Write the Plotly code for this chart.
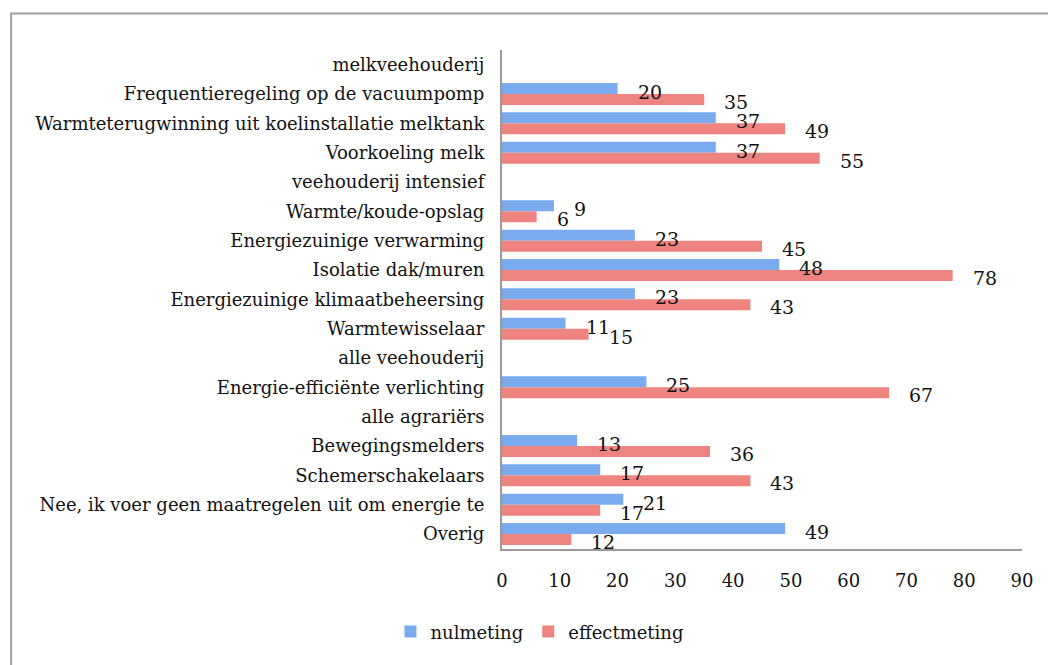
import plotly.graph_objects as go

# categories top to bottom (group headers have no bars)
categories = [
    "melkveehouderij",
    "Frequentieregeling op de vacuumpomp",
    "Warmteterugwinning uit koelinstallatie melktank",
    "Voorkoeling melk",
    "veehouderij intensief",
    "Warmte/koude-opslag",
    "Energiezuinige verwarming",
    "Isolatie dak/muren",
    "Energiezuinige klimaatbeheersing",
    "Warmtewisselaar",
    "alle veehouderij",
    "Energie-efficiënte verlichting",
    "alle agrariërs",
    "Bewegingsmelders",
    "Schemerschakelaars",
    "Nee, ik voer geen maatregelen uit om energie te",
    "Overig",
]
nulmeting = [None, 20, 37, 37, None, 9, 23, 48, 23, 11, None, 25, None, 13, 17, 21, 49]
effectmeting = [None, 35, 49, 55, None, 6, 45, 78, 43, 15, None, 67, None, 36, 43, 17, 12]
x_ticks = [0, 10, 20, 30, 40, 50, 60, 70, 80, 90]

FONT = "DejaVu Serif"
BLUE = "#7aabee"
RED = "#ee8480"

fig = go.Figure()
fig.add_trace(go.Bar(y=categories, x=nulmeting, orientation="h", name="nulmeting",
                     marker=dict(color=BLUE, line=dict(width=0))))
fig.add_trace(go.Bar(y=categories, x=effectmeting, orientation="h", name="effectmeting",
                     marker=dict(color=RED, line=dict(width=0))))

# value labels, Excel style: just right of each bar end
for cat, v in zip(categories, nulmeting):
    if v is not None:
        fig.add_annotation(x=v, y=cat, text=str(v), showarrow=False, xanchor="left",
                           xshift=18, yshift=2, font=dict(family=FONT, size=19, color="#111"))
for cat, v in zip(categories, effectmeting):
    if v is not None:
        fig.add_annotation(x=v, y=cat, text=str(v), showarrow=False, xanchor="left",
                           xshift=18, yshift=-8, font=dict(family=FONT, size=19, color="#111"))

# outer chart border (runs off the right/bottom of the picture)
fig.add_shape(type="rect", xref="paper", yref="paper", x0=-0.944, x1=1.2, y0=-0.4, y1=1.073,
              line=dict(color="#a0a0a0", width=2), fillcolor="rgba(0,0,0,0)", layer="below")

# page body has an 8px margin, so the figure is sized to fill the rest of the window
fig.update_layout(
    width=1048, height=657,
    margin=dict(l=494, r=34, t=42, b=116),
    plot_bgcolor="white", paper_bgcolor="white",
    barmode="group", bargap=0.25, bargroupgap=0,
    font=dict(family=FONT, size=18, color="#111"),
    showlegend=True,
    legend=dict(orientation="h", x=0.073, xanchor="center", y=-0.166, yanchor="middle",
                font=dict(family=FONT, size=18), itemwidth=30, traceorder="normal"),
    xaxis=dict(range=[0, 90], tickvals=x_ticks, showgrid=False, zeroline=False,
               showline=True, linecolor="#9a9a9a", linewidth=2, ticks="",
               ticklabelstandoff=14, tickfont=dict(family=FONT, size=18)),
    yaxis=dict(autorange="reversed", showgrid=False, zeroline=False, showline=True,
               linecolor="#9a9a9a", linewidth=2, ticks="", ticklabelstandoff=12,
               tickfont=dict(family=FONT, size=18)),
)

fig.write_html("out.html")
